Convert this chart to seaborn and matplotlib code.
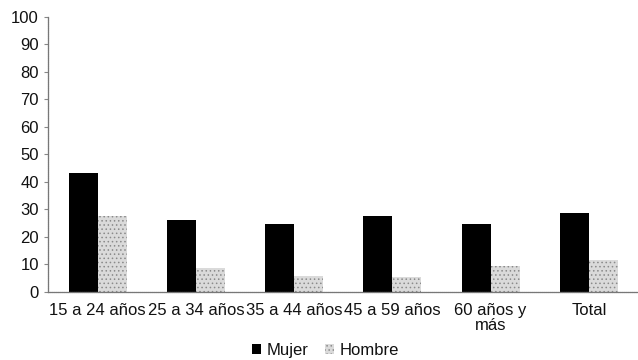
import matplotlib
matplotlib.use("Agg")
import matplotlib.pyplot as plt
from matplotlib.patches import Patch
import numpy as np
import pandas as pd
import seaborn as sns

categories = ["15 a 24 años", "25 a 34 años", "35 a 44 años", "45 a 59 años", "60 años y\nmás", "Total"]
mujer = [43.1, 26.3, 24.8, 27.7, 24.8, 28.8]
hombre = [27.7, 8.8, 5.8, 5.5, 9.5, 11.7]
series = ["Mujer", "Hombre"]
yticks = list(range(0, 101, 10))

df = pd.DataFrame({
    "grupo": categories * 2,
    "sexo": ["Mujer"] * len(categories) + ["Hombre"] * len(categories),
    "valor": mujer + hombre,
})

sns.set_theme(style="white")
plt.rcParams["font.family"] = ["Liberation Sans", "DejaVu Sans"]
plt.rcParams["hatch.linewidth"] = 0.6

colors = {"Mujer": "#000000", "Hombre": "#dadada"}

fig = plt.figure(figsize=(6.38, 3.6), dpi=100)
ax = fig.add_axes([0.076, 0.189, 0.924, 0.764])

sns.barplot(data=df, x="grupo", y="valor", hue="sexo", hue_order=series,
            order=categories, palette=colors, width=0.59, gap=0,
            saturation=1, ax=ax, legend=False)

# dotted texture on the Hombre bars
for cont, name in zip(ax.containers, series):
    for bar in cont:
        bar.set_edgecolor("none")
        bar.set_linewidth(0)
        if name == "Hombre":
            bar.set_hatch("....")
            bar.set_edgecolor("#8a8a8a")

ax.set_ylim(0, 100)
ax.set_xlim(-0.5, len(categories) - 0.5)
ax.set_yticks(yticks)
ax.set_yticklabels([str(t) for t in yticks], fontsize=12, color="#111111")
ax.set_xlabel("")
ax.set_ylabel("")
ax.set_xticks(range(len(categories)))
ax.set_xticklabels(categories, fontsize=12, linespacing=1.0, color="#111111")
ax.tick_params(axis="x", which="major", length=0, pad=8)
ax.set_xticks(np.arange(0.5, len(categories) - 0.5, 1), minor=True)
ax.tick_params(axis="x", which="minor", length=3, color="#888888", width=0.8, direction="out")
ax.tick_params(axis="y", length=3, color="#888888", width=0.8, left=True, pad=4)

for s in ["top", "right"]:
    ax.spines[s].set_visible(False)
for s in ["left", "bottom"]:
    ax.spines[s].set_color("#777777")
    ax.spines[s].set_linewidth(0.9)
    ax.spines[s].set_linestyle((0, (1, 0.6)))

handles = [Patch(facecolor=colors["Mujer"], edgecolor="none", label="Mujer"),
           Patch(facecolor=colors["Hombre"], edgecolor="#8a8a8a", linewidth=0, hatch="....", label="Hombre")]
fig.legend(handles=handles, loc="lower center", bbox_to_anchor=(0.51, -0.035), ncol=2,
           frameon=False, fontsize=12, handlelength=0.55, handleheight=0.55,
           handletextpad=0.3, columnspacing=1.0, labelcolor="#111111")

fig.savefig("out.png", dpi=100)
